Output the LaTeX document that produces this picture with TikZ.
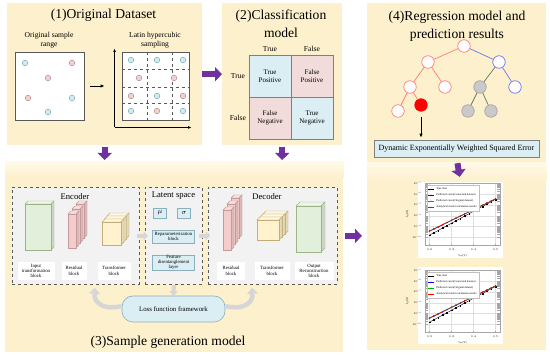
\RequirePackage{fix-cm}
\documentclass[tikz,border=0pt]{standalone}
\usepackage{fontspec}
\setmainfont{Liberation Serif}
\usepackage{pgfplots}
\pgfplotsset{compat=1.18}
\usetikzlibrary{arrows.meta,calc,positioning}

\definecolor{panelCream}{HTML}{FDF0CD}
\definecolor{panelLight}{HTML}{FFF9E6}
\definecolor{arrowPurple}{HTML}{7030A0}
\definecolor{cellBlue}{HTML}{DAEEF3}
\definecolor{cellPink}{HTML}{F2DCDB}
\definecolor{cellEdge}{HTML}{7F7F7F}
\definecolor{squareEdge}{HTML}{595959}
\definecolor{dotBlue}{HTML}{D3ECF3}
\definecolor{dotBlueEdge}{HTML}{7FA8B8}
\definecolor{dotPink}{HTML}{F0D2D2}
\definecolor{dotPinkEdge}{HTML}{B88E8E}
\definecolor{boxGrey}{HTML}{F2F2F2}
\definecolor{dashEdge}{HTML}{595959}
\definecolor{blockGreen}{HTML}{E2EFDA}
\definecolor{blockGreenEdge}{HTML}{9DB387}
\definecolor{blockPink}{HTML}{F4CCCC}
\definecolor{blockPinkEdge}{HTML}{C49A9A}
\definecolor{blockYellow}{HTML}{FFF2CC}
\definecolor{blockYellowEdge}{HTML}{C4AD78}
\definecolor{latBlue}{HTML}{DAEEF3}
\definecolor{latEdge}{HTML}{8AAFBD}
\definecolor{treeRed}{HTML}{FF7C7C}
\definecolor{treeBlue}{HTML}{7272E6}
\definecolor{treeGrey}{HTML}{C9C9C9}
\definecolor{treeGreyEdge}{HTML}{A6A6A6}
\definecolor{treeOlive}{HTML}{6E6E5E}
\definecolor{flowGrey}{HTML}{D6D6D6}

\newcommand{\TitleFont}{\fontsize{13.6}{17.5}\selectfont}
\newcommand{\CaptionFont}{\fontsize{7.6}{9}\selectfont}
\newcommand{\CellFont}{\fontsize{7}{8.4}\selectfont}
\newcommand{\BoxFont}{\fontsize{8.6}{10}\selectfont}
\newcommand{\TinyFont}{\fontsize{4.8}{5.4}\selectfont}
\newcommand{\PlotFont}{\fontsize{2.8}{3.2}\selectfont}

% cuboid: x, y (top left of front face, y downwards), width, height, depth, colour
\newcommand{\Cuboid}[6]{%
  \pgfmathsetmacro{\cubX}{#1}\pgfmathsetmacro{\cubY}{-(#2)}%
  \filldraw[draw=#6Edge, fill=#6!60!white, line width=0.4pt]
    (\cubX,\cubY) -- ++(#5,#5) -- ++(#3,0) -- ++(-#5,-#5) -- cycle;
  \filldraw[draw=#6Edge, fill=#6!90!black, line width=0.4pt]
    (\cubX+#3,\cubY) -- ++(#5,#5) -- ++(0,-#4) -- ++(-#5,-#5) -- cycle;
  \filldraw[draw=#6Edge, fill=#6, line width=0.4pt]
    (\cubX,\cubY) rectangle ++(#3,-#4);
}

\tikzset{
  panel/.style={fill=panelCream, draw=none, inner sep=0pt, anchor=north west},
  purple arrow/.style={
    -{Triangle[length=7pt,width=14pt]}, line width=6pt, arrowPurple
  },
  flow arrow/.style={
    -{Triangle[length=4.5pt,width=8.5pt]}, line width=4pt, flowGrey
  },
  bend arrow/.style={
    -{Triangle[length=6pt,width=11pt]}, line width=4.5pt, flowGrey
  },
  axis arrow/.style={-{Latex[length=3.5pt,width=2.8pt]}, line width=0.6pt, black},
  sample square/.style={
    draw=squareEdge, fill=white, line width=0.9pt, inner sep=0pt,
    minimum height=68pt
  },
  grid dash/.style={dashed, squareEdge, line width=0.5pt},
  cell/.style={
    draw=cellEdge, line width=0.6pt, minimum width=42pt, minimum height=42pt,
    align=center, font=\CellFont, inner sep=0pt
  },
  dash box/.style={
    draw=dashEdge, dashed, line width=0.8pt, fill=boxGrey, inner sep=0pt,
    anchor=north west, minimum height=97pt
  },
  block label/.style={fill=white, align=center, font=\TinyFont, inner sep=0pt,
    minimum height=18pt},
  lat box/.style={
    draw=latEdge, fill=latBlue, line width=0.6pt, align=center, inner sep=0pt,
    font=\TinyFont
  },
  tnode/.style={circle, minimum size=12.5pt, inner sep=0pt, line width=0.7pt,
    fill=white, draw=#1},
}

\pgfplotsset{
  iv axis/.style={
    scale only axis, width=75pt, height=62pt,
    xmin=0.18, xmax=0.52, ymin=2e-11, ymax=1e-5,
    xtick={0.2,0.3,0.4,0.5}, ytick={1e-10,1e-9,1e-8,1e-7,1e-6,1e-5},
    grid=major, major grid style={gray!25, line width=0.2pt},
    tick label style={font=\PlotFont}, label style={font=\PlotFont},
    xlabel={\textit{V}\textsubscript{\textit{gs}}(V)},
    ylabel={\textit{I}\textsubscript{\textit{ds}}(A)},
    xlabel style={yshift=3pt}, ylabel style={yshift=-3pt},
    axis line style={gray!70, line width=0.3pt},
    tick style={gray!70, line width=0.2pt}, major tick length=1pt,
    legend style={font=\PlotFont, at={(0.03,0.97)}, anchor=north west,
      draw=gray!50, fill=white, inner sep=0.4pt, row sep=-1.4pt},
    legend cell align=left,
    legend image code/.code={
      \draw[mark repeat=2,mark phase=2] plot coordinates {(0pt,0pt) (3pt,0pt) (6pt,0pt)};
    },
    every axis plot/.append style={line width=0.4pt, mark size=0.4pt},
  },
}

\begin{document}
\begin{tikzpicture}[x=1pt,y=1pt]
  \useasboundingbox (0,0) rectangle (550,-355);
  \fill[white] (0,0) rectangle (550,-355);

  % Panels
  \node[panel, minimum width=195pt, minimum height=142pt] (p1) at (7,-3) {};
  \node[panel, minimum width=120pt, minimum height=142pt] (p2) at (222,-3) {};
  \node[panel, minimum width=338pt, minimum height=190pt] (p3) at (5,-162) {};
  \node[panel, minimum width=179pt, minimum height=160pt] (p4a) at (367,-3) {};
  \node[panel, minimum width=179pt, minimum height=187pt] (p4b) at (367,-163) {};
  \shade[top color=panelLight, bottom color=panelCream]
    (p3.north west) rectangle ($(p3.north east)+(0,-16)$);
  \shade[top color=panelLight, bottom color=panelCream]
    (p4b.north west) rectangle ($(p4b.north east)+(0,-18)$);

  % ===================== (1) Original dataset =====================
  \node[font=\TitleFont] (t1) at (103.5,-15) {(1)Original Dataset};
  \node[font=\CaptionFont, align=center] (capA) at (49,-40) {Original sample\\range};
  \node[font=\CaptionFont, align=center] (capB) at (155,-40) {Latin hypercubic\\sampling};

  \node[sample square, minimum width=69pt] (sqA) at (49.5,-86) {};
  \node[sample square, minimum width=67pt] (sqB) at (155.5,-86) {};

  \foreach \gx in {147,172}
    \draw[grid dash] (sqB.north -| \gx,0) -- (sqB.south -| \gx,0);
  \foreach \gy in {69,87,103}
    \draw[grid dash] (sqB.west |- 0,-\gy) -- (sqB.east |- 0,-\gy);

  \foreach \px/\py in {25/63,72/98,48/112,
                       131/60,157/60,183/60,157/96,131/111,183/111}
    \filldraw[fill=dotBlue, draw=dotBlueEdge, line width=0.5pt] (\px,-\py) circle (2.8);
  \foreach \px/\py in {72/63,48/78,28/98,
                       139/78,174/78,131/96,183/96,157/111}
    \filldraw[fill=dotPink, draw=dotPinkEdge, line width=0.5pt] (\px,-\py) circle (2.8);

  \coordinate (ax0) at ($(sqB.south west)+(-7,-7)$);
  \draw[axis arrow] (ax0) -- ++(0,79);
  \draw[axis arrow] (ax0) -- ++(77,0);
  \draw[-{Latex[length=4pt,width=3.5pt]}, line width=0.9pt]
    ([xshift=6pt]sqA.east) -- ([xshift=-17pt]sqB.west);

  % ===================== (2) Classification =====================
  \node[font=\TitleFont, align=center] (t2) at (281,-24) {(2)Classification\\model};
  \node[cell, fill=cellBlue] (tp) at (270,-76) {True\\Positive};
  \node[cell, fill=cellPink] (fp) at (312,-76) {False\\Positive};
  \node[cell, fill=cellPink] (fn) at (270,-118) {False\\Negative};
  \node[cell, fill=cellBlue] (tn) at (312,-118) {True\\Negative};
  \node[font=\CaptionFont] (colT) at (270,-49) {True};
  \node[font=\CaptionFont] (colF) at (312,-49) {False};
  \node[font=\CaptionFont] (rowT) at (238,-76) {True};
  \node[font=\CaptionFont] (rowF) at (238,-118) {False};

  % ===================== (3) Sample generation =====================
  \node[dash box, minimum width=127pt] (enc) at (12,-187) {};
  \node[dash box, minimum width=57pt] (lat) at (145,-187) {};
  \node[dash box, minimum width=129pt] (dec) at (208,-187) {};

  \node[font=\BoxFont] (encT) at (75,-197) {Encoder};
  \node[font=\BoxFont] (latT) at (173.5,-196) {Latent space};
  \node[font=\BoxFont] (decT) at (267,-197) {Decoder};

  % encoder blocks
  \Cuboid{25}{204}{26}{46}{3}{blockGreen}
  \foreach \k in {2,1,0} { \Cuboid{68+4*\k}{214-5*\k}{8}{34}{3}{blockPink} }
  \foreach \k in {2,1,0} { \Cuboid{102+2.5*\k}{222-3*\k}{19}{23}{3}{blockYellow} }
  \node[block label, minimum width=37pt] (encIn) at (36,-271) {Input\\transformation\\block};
  \node[block label, minimum width=25pt] (encRes) at (74,-271) {Residual\\block};
  \node[block label, minimum width=33pt] (encTr) at (114,-271) {Transformer\\block};

  % latent space
  \node[lat box, font=\fontsize{7}{8}\selectfont, minimum width=13pt, minimum height=10pt] (mu) at (160,-213) {$\mu$};
  \node[lat box, font=\fontsize{7}{8}\selectfont, minimum width=13pt, minimum height=10pt] (sigma) at (184,-213) {$\sigma$};
  \node[lat box, minimum width=42pt, minimum height=13pt] (rep) at (173.5,-236.5) {Reparameterization\\block};
  \node[lat box, minimum width=42pt, minimum height=15pt] (feat) at (173.5,-262.5) {Feature\\disentanglement\\layer};

  % decoder blocks
  \foreach \k in {2,1,0} { \Cuboid{223+4*\k}{210-6*\k}{8}{40}{3}{blockPink} }
  \foreach \k in {2,1,0} { \Cuboid{257+3*\k}{220-3*\k}{22}{20}{3}{blockYellow} }
  \Cuboid{296}{206}{25}{46}{4}{blockGreen}
  \node[block label, minimum width=28pt] (decRes) at (231,-271) {Residual\\block};
  \node[block label, minimum width=35pt] (decTr) at (272,-271) {Transformer\\block};
  \node[block label, minimum width=39pt] (decOut) at (314,-271) {Output\\Reconstruction\\block};

  % loss
  \node[draw=latEdge, fill=latBlue, line width=0.6pt, rounded corners=11pt,
        minimum width=103pt, minimum height=26pt,
        font=\fontsize{6.8}{8}\selectfont] (loss) at (173.5,-309) {Loss function framework};

  \coordinate (encBack) at ($(enc.south west)+(83,-3)$);
  \coordinate (decBack) at ($(dec.south west)+(44,-3)$);
  \draw[bend arrow] ([yshift=3pt]loss.west) to[out=195,in=-95,looseness=1.3] (encBack);
  \draw[bend arrow] ([yshift=3pt]loss.east) to[out=-15,in=-85,looseness=1.3] (decBack);

  \draw[flow arrow] ([xshift=-3pt]enc.east) -- ([xshift=3pt]lat.west);
  \draw[flow arrow] ([xshift=-4pt]lat.east) -- ([xshift=2pt]dec.west);
  \draw[flow arrow] (lat.south) -- (loss.north);

  \node[font=\TitleFont] (t3) at (168,-342) {(3)Sample generation model};

  % ===================== (4) Regression =====================
  \node[font=\TitleFont, align=center] (t4) at (457,-26) {(4)Regression model and\\prediction results};

  \node[tnode=treeRed] (rt) at (464,-46) {};
  \node[tnode=treeRed] (a1) at (428,-62) {};
  \node[tnode=treeBlue] (a2) at (499,-62) {};
  \node[tnode=treeRed] (b1) at (410,-87) {};
  \node[tnode=treeRed] (b2) at (445,-87) {};
  \node[tnode=treeGreyEdge, fill=treeGrey] (b3) at (480,-87) {};
  \node[tnode=treeBlue] (b4) at (515,-87) {};
  \node[tnode=treeRed] (c1) at (398,-111) {};
  \node[tnode=red, fill=red] (c2) at (421,-105) {};
  \node[tnode=treeGreyEdge, fill=treeGrey] (c3) at (468,-111) {};
  \node[tnode=treeGreyEdge, fill=treeGrey] (c4) at (491,-111) {};

  \foreach \a/\b in {rt/a1,a1/b1,a1/b2,b1/c1,b1/c2}
    \draw[treeRed, line width=0.7pt] (\a) -- (\b);
  \foreach \a/\b in {rt/a2,a2/b4}
    \draw[treeBlue, line width=0.7pt] (\a) -- (\b);
  \foreach \a/\b in {a2/b3,b3/c3,b3/c4}
    \draw[treeOlive, line width=0.7pt] (\a) -- (\b);

  \node[draw=gray, fill=cellBlue, line width=0.6pt, minimum width=165pt,
        minimum height=17pt, inner sep=0pt,
        font=\fontsize{8}{9}\selectfont] (dewse) at (456.5,-148.5)
        {Dynamic Exponentially Weighted Squared Error};
  \draw[-{Latex[length=4pt,width=3.5pt]}, line width=0.8pt, shorten <=5pt, shorten >=2pt]
    (c2) -- (c2 |- dewse.north);

  % plots
  \node[fill=white, minimum width=85pt, minimum height=76pt, inner sep=0pt] (plotA) at (460.5,-220) {};
  \node[fill=white, minimum width=85pt, minimum height=77pt, inner sep=0pt] (plotB) at (460.5,-305.5) {};

  \begin{axis}[iv axis, ymode=log, at={(425pt,-245pt)}, anchor=south west]
    \addplot[black, mark=square*, domain=0.2:0.5, samples=16] {10^(-9.8+(x-0.2)*11)};
    \addplot[blue, mark=triangle*, domain=0.2:0.5, samples=16] {10^(-9.45+(x-0.2)*10)};
    \addplot[green!70!black, mark=triangle*, domain=0.2:0.5, samples=16] {10^(-9.4+(x-0.2)*9.8)};
    \addplot[red, mark=*, domain=0.2:0.5, samples=16] {10^(-9.42+(x-0.2)*9.9)};
    \legend{True data, Predicted curve(Generated dataset),
      Predicted curve(Original dataset), Analytical model calculation results}
  \end{axis}
  \begin{axis}[iv axis, ymode=log, at={(425pt,-332pt)}, anchor=south west]
    \addplot[black, mark=square*, domain=0.2:0.5, samples=16] {10^(-9.8+(x-0.2)*11)};
    \addplot[blue, mark=triangle*, domain=0.2:0.5, samples=16] {10^(-9.45+(x-0.2)*10)};
    \addplot[green!70!black, mark=triangle*, domain=0.2:0.5, samples=16] {10^(-9.4+(x-0.2)*9.8)};
    \addplot[red, mark=*, domain=0.2:0.5, samples=16] {10^(-9.42+(x-0.2)*9.9)};
    \legend{True data, Predicted curve(Generated dataset),
      Predicted curve(Original dataset), Analytical model calculation results}
  \end{axis}

  % purple connectors
  \draw[purple arrow] (p1.east) -- (p2.west);
  \draw[purple arrow, shorten <=2pt, shorten >=2pt] (p1.south) -- (p1.south |- p3.north);
  \draw[purple arrow, shorten <=2pt, shorten >=2pt] (p2.south) -- (p2.south |- p3.north);
  \draw[purple arrow, shorten <=6pt, shorten >=5pt] (dewse.south) -- (plotA.north);
  \draw[purple arrow, shorten <=2pt, shorten >=5pt] (dec.east -| p3.east) -- (dec.east -| p4b.west);
\end{tikzpicture}
\end{document}
